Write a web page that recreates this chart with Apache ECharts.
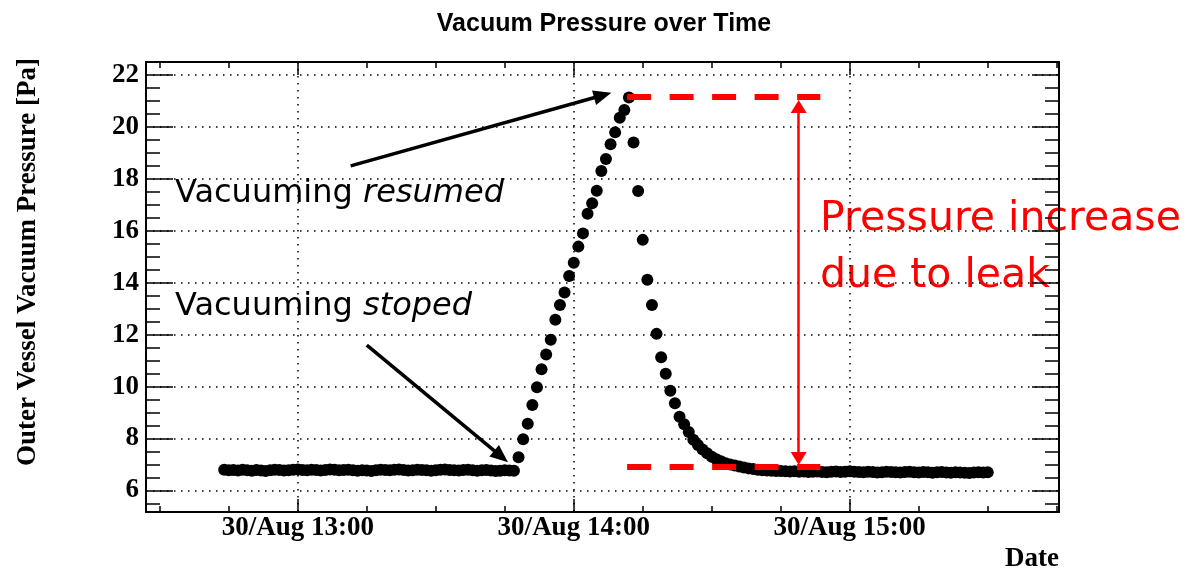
<!DOCTYPE html>
<html>
<head>
<meta charset="utf-8">
<script src="https://cdn.jsdelivr.net/npm/echarts@6/dist/echarts.min.js"></script>
<style>
  html, body { margin: 0; background: #fff; }
  #chart { width: 1188px; height: 570px; }
</style>
</head>
<body>
<div id="chart"></div>
<script>
// 时间单位: 30/Aug 当天的分钟数, 记录仪每分钟采样一次
const startMinute = 12 * 60 + 44

// 12:44 - 13:47 抽真空中
const baselineBefore = [
  6.80, 6.78, 6.79, 6.77, 6.80, 6.78, 6.76, 6.79, 6.77, 6.75,
  6.78, 6.80, 6.79, 6.77, 6.78, 6.80, 6.81, 6.79, 6.78, 6.80,
  6.79, 6.77, 6.79, 6.81, 6.80, 6.78, 6.79, 6.80, 6.78, 6.76,
  6.78, 6.77, 6.75, 6.78, 6.80, 6.79, 6.78, 6.80, 6.81, 6.79,
  6.77, 6.78, 6.80, 6.79, 6.78, 6.76, 6.78, 6.80, 6.81, 6.79,
  6.78, 6.77, 6.79, 6.80, 6.78, 6.76, 6.78, 6.79, 6.77, 6.75,
  6.76, 6.78, 6.77, 6.76,
]
// 13:48 - 14:12 停泵, 漏气升压
const pumpOffRise = [
  7.28, 7.97, 8.57, 9.29, 9.97, 10.67, 11.24, 11.80, 12.57, 13.14,
  13.62, 14.26, 14.77, 15.39, 15.90, 16.66, 17.06, 17.54, 18.30, 18.76,
  19.33, 19.79, 20.35, 20.65, 21.13,
]
// 14:13 - 14:42 恢复抽真空
const pumpOnFall = [
  19.40, 17.53, 15.65, 14.11, 13.14, 12.03, 11.13, 10.49, 9.84, 9.36,
  8.84, 8.55, 8.25, 7.95, 7.75, 7.58, 7.43, 7.30, 7.20, 7.12,
  7.05, 7.00, 6.96, 6.92, 6.88, 6.85, 6.83, 6.80, 6.78, 6.77,
]
// 14:43 - 15:30
const baselineAfter = [
  6.76, 6.75, 6.75, 6.74, 6.73, 6.74, 6.72, 6.73, 6.71, 6.72,
  6.73, 6.71, 6.70, 6.72, 6.73, 6.71, 6.72, 6.74, 6.72, 6.71,
  6.70, 6.72, 6.71, 6.69, 6.70, 6.72, 6.71, 6.70, 6.69, 6.71,
  6.72, 6.70, 6.69, 6.71, 6.70, 6.68, 6.70, 6.71, 6.69, 6.68,
  6.70, 6.69, 6.68, 6.67, 6.69, 6.70, 6.69, 6.70,
]

const xMajorTicks = [780, 840, 900]
const xMajorLabels = ['30/Aug 13:00', '30/Aug 14:00', '30/Aug 15:00']
const xMinorTicks = [750, 765, 795, 810, 825, 855, 870, 885, 915, 930, 945]
const yMajorTicks = [6, 8, 10, 12, 14, 16, 18, 20, 22]
const yMinorTicks = [5.5, 6.5, 7, 7.5, 8.5, 9, 9.5, 10.5, 11, 11.5, 12.5, 13, 13.5,
  14.5, 15, 15.5, 16.5, 17, 17.5, 18.5, 19, 19.5, 20.5, 21, 21.5]

const pressure = [...baselineBefore, ...pumpOffRise, ...pumpOnFall, ...baselineAfter]
const points = pressure.map((v, i) => [startMinute + i, v])

const X_MIN = 747
const X_MAX = 945.5
const Y_MIN = 5.17
const Y_MAX = 22.5

const serif = 'Liberation Serif'
const sans = 'DejaVu Sans'
const gridDots = { color: '#000', width: 1.5, type: [1.5, 5.5] }

// 主刻度轴 / 次刻度轴 (ROOT 风格, 四边都有刻度)
const makeXAxis = (position, major) => ({
  type: 'value',
  position,
  min: X_MIN,
  max: X_MAX,
  axisLine: { show: major, onZero: false, lineStyle: { color: '#000', width: 2 } },
  axisTick: {
    show: true,
    inside: true,
    length: major ? 13 : 6,
    customValues: major ? xMajorTicks : xMinorTicks,
    lineStyle: { color: '#000', width: 1.5 },
  },
  axisLabel: {
    show: major && position === 'bottom',
    customValues: xMajorTicks,
    margin: 3,
    color: '#000',
    fontFamily: serif,
    fontWeight: 'bold',
    fontSize: 27,
    formatter: v => xMajorLabels[xMajorTicks.indexOf(v)],
  },
  splitLine: { show: major && position === 'bottom', lineStyle: gridDots },
})

const makeYAxis = (position, major) => ({
  type: 'value',
  position,
  min: Y_MIN,
  max: Y_MAX,
  axisLine: { show: major, onZero: false, lineStyle: { color: '#000', width: 2 } },
  axisTick: {
    show: true,
    inside: true,
    length: major ? 27 : 14,
    customValues: major ? yMajorTicks : yMinorTicks,
    lineStyle: { color: '#000', width: 1.5 },
  },
  axisLabel: {
    show: major && position === 'left',
    customValues: yMajorTicks,
    margin: 7,
    color: '#000',
    fontFamily: serif,
    fontWeight: 'bold',
    fontSize: 27,
  },
  splitLine: { show: major && position === 'left', lineStyle: gridDots },
})

// 注释箭头与虚线 (数据坐标)
const arrow = (from, to, color, width, size, both) => [
  {
    coord: from,
    symbol: both ? 'triangle' : 'none',
    symbolSize: size,
    lineStyle: { color, width, type: 'solid' },
    itemStyle: { color },
  },
  { coord: to, symbol: 'triangle', symbolSize: size, itemStyle: { color } },
]
const dashed = (from, to) => [
  { coord: from, symbol: 'none', lineStyle: { color: '#ff0000', width: 6, type: [24, 18.5] } },
  { coord: to, symbol: 'none' },
]

const chart = echarts.init(document.getElementById('chart'))

chart.setOption({
  animation: false,
  backgroundColor: '#fff',
  title: {
    text: 'Vacuum Pressure over Time',
    left: 599,
    top: 7,
    textAlign: 'center',
    textStyle: { fontFamily: 'Liberation Sans', fontWeight: 'bold', fontSize: 25, color: '#000' },
  },
  grid: { left: 146, right: 129, top: 62, bottom: 58, outerBoundsMode: 'none' },
  xAxis: [
    makeXAxis('bottom', true),
    makeXAxis('bottom', false),
    makeXAxis('top', true),
    makeXAxis('top', false),
  ],
  yAxis: [
    makeYAxis('left', true),
    makeYAxis('left', false),
    makeYAxis('right', true),
    makeYAxis('right', false),
  ],
  series: [
    {
      type: 'scatter',
      data: points,
      symbol: 'circle',
      symbolSize: 12,
      itemStyle: { color: '#000', opacity: 1 },
      emphasis: { disabled: true },
      markLine: {
        silent: true,
        animation: false,
        label: { show: false },
        emphasis: { disabled: true },
        data: [
          dashed([851.6, 21.15], [893.6, 21.15]),
          dashed([851.6, 6.92], [893.6, 6.92]),
          arrow([791.5, 18.5], [846.3, 21.22], '#000', 3.5, [15, 18], false),
          arrow([795.0, 11.6], [824.2, 7.31], '#000', 3.5, [15, 18], false),
          arrow([888.9, 20.79], [888.9, 7.23], '#ff0000', 2.5, [16, 13], true),
        ],
      },
    },
  ],
  graphic: [
    {
      type: 'text',
      x: 28,
      y: 262,
      rotation: Math.PI / 2,
      style: {
        text: 'Outer Vessel Vacuum Pressure [Pa]',
        fontFamily: serif,
        fontWeight: 'bold',
        fontSize: 27,
        fill: '#000',
        align: 'center',
        verticalAlign: 'middle',
      },
    },
    {
      type: 'text',
      x: 1059,
      y: 559,
      style: {
        text: 'Date',
        fontFamily: serif,
        fontWeight: 'bold',
        fontSize: 27,
        fill: '#000',
        align: 'right',
        verticalAlign: 'middle',
      },
    },
    {
      type: 'text',
      x: 175,
      y: 194,
      style: {
        text: '{n|Vacuuming }{i|resumed}',
        verticalAlign: 'middle',
        rich: {
          n: { fontFamily: sans, fontSize: 32, fill: '#000' },
          i: { fontFamily: sans, fontSize: 32, fontStyle: 'italic', fill: '#000' },
        },
      },
    },
    {
      type: 'text',
      x: 175,
      y: 307,
      style: {
        text: '{n|Vacuuming }{i|stoped}',
        verticalAlign: 'middle',
        rich: {
          n: { fontFamily: sans, fontSize: 32, fill: '#000' },
          i: { fontFamily: sans, fontSize: 32, fontStyle: 'italic', fill: '#000' },
        },
      },
    },
    {
      type: 'text',
      x: 820,
      y: 219,
      style: { text: 'Pressure increase', fontFamily: sans, fontSize: 41, fill: '#ff0000', verticalAlign: 'middle' },
    },
    {
      type: 'text',
      x: 820,
      y: 276,
      style: { text: 'due to leak', fontFamily: sans, fontSize: 41, fill: '#ff0000', verticalAlign: 'middle' },
    },
  ],
})
</script>
</body>
</html>
